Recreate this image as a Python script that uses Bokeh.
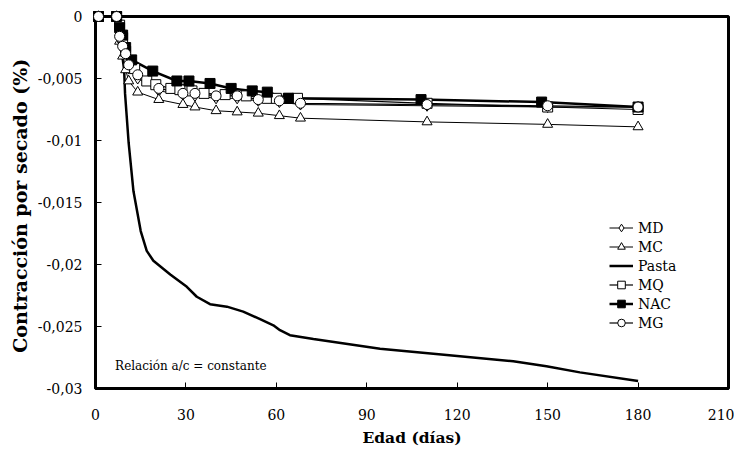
from bokeh.plotting import figure
from bokeh.models import Range1d, Legend, LegendItem, Label, FixedTicker, CustomJSTickFormatter
from bokeh.embed import file_html
from bokeh.resources import INLINE

# ---- data ----
x_ticks = [0, 30, 60, 90, 120, 150, 180, 210]
y_ticks = [0, -0.005, -0.01, -0.015, -0.02, -0.025, -0.03]

days_std = [1, 7, 8, 9, 10, 11, 14, 21, 29, 33, 40, 47, 54, 61, 68, 110, 150, 180]
md_vals = [0, 0, -0.0018, -0.0026, -0.0033, -0.0042, -0.0050, -0.0060, -0.0063, -0.0064,
           -0.0066, -0.0066, -0.0068, -0.0069, -0.0071, -0.0072, -0.0073, -0.0073]
mc_vals = [0, 0, -0.0020, -0.0032, -0.0043, -0.0052, -0.0061, -0.0067, -0.0071, -0.0073,
           -0.0076, -0.0077, -0.0078, -0.0080, -0.0082, -0.0085, -0.0087, -0.0089]
mg_vals = [0, 0, -0.0016, -0.0024, -0.0030, -0.0039, -0.0047, -0.0058, -0.0062, -0.0062,
           -0.0064, -0.0064, -0.0067, -0.0068, -0.0070, -0.0071, -0.0072, -0.0073]

mq_days = [1, 7, 8, 9, 10, 13, 17, 20, 25, 28, 32, 36, 43, 50, 57, 60, 64, 67, 110, 150, 180]
mq_vals = [0, 0, -0.0007, -0.0017, -0.0028, -0.0042, -0.0052, -0.0055, -0.0058, -0.0059,
           -0.0060, -0.0062, -0.0063, -0.0064, -0.0066, -0.0066, -0.0066, -0.0066,
           -0.0070, -0.0073, -0.0075]

nac_days = [1, 7, 8, 9, 10, 12, 19, 27, 31, 38, 45, 52, 57, 64, 108, 148, 180]
nac_vals = [0, 0, -0.0009, -0.0015, -0.0025, -0.0035, -0.0044, -0.0052, -0.0052, -0.0054,
            -0.0058, -0.0060, -0.0061, -0.0066, -0.0067, -0.0069, -0.0073]

pasta_days = [1, 7, 8, 9.5, 9.8, 11, 12.6, 15, 17, 19.2, 24.8, 30.3, 33.6, 38, 43.6, 49,
              54.6, 59, 61.2, 64.5, 72.3, 94.4, 116.5, 138.6, 149.6, 160.7, 180]
pasta_vals = [0, 0, -0.0015, -0.0043, -0.0062, -0.0102, -0.0141, -0.0173, -0.0189, -0.0197,
              -0.0208, -0.0218, -0.0226, -0.0232, -0.0234, -0.0238, -0.0244, -0.0249,
              -0.0253, -0.0257, -0.0260, -0.0268, -0.0273, -0.0278, -0.0282, -0.0287, -0.0294]

FONT = "DejaVu Serif"

p = figure(width=734, height=449, output_backend="svg", toolbar_location=None,
           x_range=Range1d(0, 210), y_range=Range1d(-0.03, 0),
           min_border_left=95, min_border_right=6, min_border_top=16, min_border_bottom=55)
p.xgrid.visible = False
p.ygrid.visible = False
p.outline_line_color = "black"
p.outline_line_width = 3
p.background_fill_color = "white"

for ax in (p.xaxis[0], p.yaxis[0]):
    ax.axis_line_color = "black"
    ax.axis_line_width = 3
    ax.major_tick_in = 6
    ax.major_tick_out = 0
    ax.minor_tick_line_color = None
    ax.major_tick_line_color = "black"
    ax.major_tick_line_width = 1
    ax.major_label_text_font = FONT
    ax.major_label_text_font_size = "14px"
    ax.major_label_text_color = "black"
    ax.axis_label_text_font = FONT
    ax.axis_label_text_font_style = "bold"
    ax.axis_label_text_color = "black"

p.xaxis.axis_label_text_font_size = "15.5px"
p.yaxis.axis_label_text_font_size = "19px"

p.xaxis.ticker = FixedTicker(ticks=x_ticks)
p.yaxis.ticker = FixedTicker(ticks=y_ticks)
p.yaxis.formatter = CustomJSTickFormatter(code="""
let s = tick.toFixed(3);
if (s.indexOf('.') >= 0) { s = s.replace(/0+$/, '').replace(/\\.$/, ''); }
if (s === '-0') s = '0';
return s.replace('.', ',');
""")
p.xaxis.major_label_standoff = 20
p.yaxis.major_label_standoff = 13
p.xaxis.axis_label = "Edad (días)"
p.yaxis.axis_label = "Contracción por secado  (%)"
p.xaxis.axis_label_standoff = 5
p.yaxis.axis_label_standoff = 4

# series
pasta_l = p.line(pasta_days, pasta_vals, line_color="black", line_width=2.5)

md_l = p.line(days_std, md_vals, line_color="black", line_width=1)
md_s = p.scatter(days_std, md_vals, marker="diamond", size=11, fill_color="white",
                 line_color="black", line_width=1, level="overlay")
mc_l = p.line(days_std, mc_vals, line_color="black", line_width=1)
mc_s = p.scatter(days_std, mc_vals, marker="triangle", size=10, fill_color="white",
                 line_color="black", line_width=1, level="overlay")
mq_l = p.line(mq_days, mq_vals, line_color="black", line_width=1.2)
mq_s = p.scatter(mq_days, mq_vals, marker="square", size=10, fill_color="white",
                 line_color="black", line_width=1, level="overlay")
nac_l = p.line(nac_days, nac_vals, line_color="black", line_width=2.5)
nac_s = p.scatter(nac_days, nac_vals, marker="square", size=10, fill_color="black",
                  line_color="black", line_width=1, level="overlay")
mg_l = p.line(days_std, mg_vals, line_color="black", line_width=1.2)
mg_s = p.scatter(days_std, mg_vals, marker="circle", size=10, fill_color="white",
                 line_color="black", line_width=1, level="overlay")

legend = Legend(items=[
    LegendItem(label="MD", renderers=[md_l, md_s]),
    LegendItem(label="MC", renderers=[mc_l, mc_s]),
    LegendItem(label="Pasta", renderers=[pasta_l]),
    LegendItem(label="MQ", renderers=[mq_l, mq_s]),
    LegendItem(label="NAC", renderers=[nac_l, nac_s]),
    LegendItem(label="MG", renderers=[mg_l, mg_s]),
], location=(514, 56))
legend.border_line_color = None
legend.background_fill_alpha = 0
legend.padding = 0
legend.margin = 0
legend.spacing = 0
legend.glyph_width = 24
legend.glyph_height = 19
legend.label_height = 19
legend.label_standoff = 5
legend.label_text_font = FONT
legend.label_text_font_size = "14px"
legend.label_text_color = "black"
p.add_layout(legend, "center")

note = Label(x=6.5, y=-0.0282, text="Relación a/c = constante", text_font=FONT,
             text_font_size="12px", text_color="black", text_baseline="middle")
p.add_layout(note)

open("out.html", "w").write(file_html(p, INLINE))
